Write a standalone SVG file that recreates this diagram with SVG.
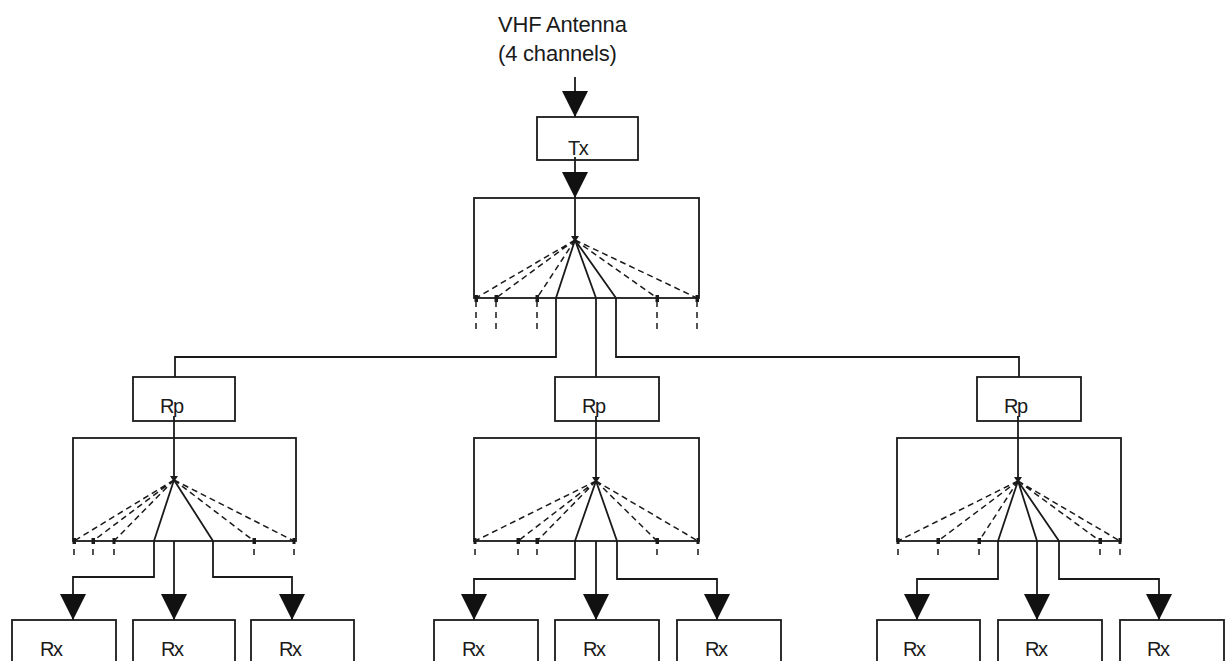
<svg xmlns="http://www.w3.org/2000/svg" width="1227" height="661" viewBox="0 0 1227 661">
  <style>
    .box { fill: #fff; stroke: #1a1a1a; stroke-width: 1.8; }
    .frame { fill: none; stroke: #1a1a1a; stroke-width: 1.8; }
    .ln { fill: none; stroke: #1a1a1a; stroke-width: 1.8; }
    .dash { fill: none; stroke: #1a1a1a; stroke-width: 1.5; stroke-dasharray: 6 4; }
    .stub { fill: none; stroke: #1a1a1a; stroke-width: 1.5; stroke-dasharray: 6 5; }
    .tick { fill: #1a1a1a; }
    .lbl { font-family: "Liberation Sans", Arial, sans-serif; font-size: 20px; fill: #1a1a1a; letter-spacing: -1.5px; }
    .cap { font-family: "Liberation Sans", Arial, sans-serif; font-size: 22px; fill: #1a1a1a; letter-spacing: -0.2px; }
  </style>
  <defs>
    <marker id="arrow" viewBox="0 0 26 26" refX="26" refY="13" markerWidth="26" markerHeight="26" markerUnits="userSpaceOnUse" orient="auto">
      <path d="M0,0 L26,13 L0,26 Z" fill="#111"/>
    </marker>
  </defs>

  <!-- antenna caption -->
  <g id="antenna">
    <text class="cap" x="498" y="32">VHF Antenna</text>
    <text class="cap" x="498" y="61">(4 channels)</text>
  </g>

  <!-- connectors -->
  <g id="connectors">
    <!-- antenna to Tx, Tx to splitter -->
    <line class="ln" x1="575" y1="77" x2="575" y2="117" marker-end="url(#arrow)"/>
    <line class="ln" x1="575" y1="157" x2="575" y2="198" marker-end="url(#arrow)"/>

    <!-- top splitter fan -->
    <line class="ln" x1="575" y1="198" x2="575" y2="240"/>
    <polygon class="tick" points="571,236 579,236 575,242"/>
    <path class="dash" d="M575,240 L476,298 M575,240 L496,298 M575,240 L537,298 M575,240 L657,298 M575,240 L697,298"/>
    <path class="ln" d="M575,240 L556,298 M575,240 L596,298 M575,240 L616,298"/>
    <path class="stub" d="M476,301 V334 M496,301 V334 M537,301 V334 M657,301 V334 M697,301 V334"/>
    <rect class="tick" x="474.5" y="295" width="3.5" height="7"/>
    <rect class="tick" x="494.5" y="295" width="3.5" height="7"/>
    <rect class="tick" x="535.5" y="295" width="3.5" height="7"/>
    <rect class="tick" x="655.5" y="295" width="3.5" height="7"/>
    <rect class="tick" x="695.5" y="295" width="3.5" height="7"/>

    <!-- feeds to the three repeaters -->
    <path class="ln" d="M556,298 V357 H175 V377"/>
    <path class="ln" d="M596,298 V377"/>
    <path class="ln" d="M616,298 V357 H1019 V377"/>

    <!-- left repeater splitter -->
    <line class="ln" x1="174" y1="417" x2="174" y2="480"/>
    <polygon class="tick" points="170,476 178,476 174,482"/>
    <path class="dash" d="M174,480 L74,541 M174,480 L93,541 M174,480 L114,541 M174,480 L254,541 M174,480 L294,541"/>
    <path class="ln" d="M174,480 L154,541 M174,480 L213,541"/>
    <path class="ln" d="M154,541 V577 H73 V620" marker-end="url(#arrow)"/>
    <path class="ln" d="M174,541 V620" marker-end="url(#arrow)"/>
    <path class="ln" d="M213,541 V577 H292 V620" marker-end="url(#arrow)"/>
    <path class="stub" d="M74,549 V556 M93,549 V556 M114,549 V556 M254,549 V556 M294,549 V556"/>
    <rect class="tick" x="72.5" y="538" width="3.5" height="6"/>
    <rect class="tick" x="91.5" y="538" width="3.5" height="6"/>
    <rect class="tick" x="112.5" y="538" width="3" height="6"/>
    <rect class="tick" x="252.5" y="538" width="3.5" height="6"/>
    <rect class="tick" x="292.5" y="538" width="3" height="6"/>

    <!-- middle repeater splitter -->
    <line class="ln" x1="596" y1="417" x2="596" y2="481"/>
    <polygon class="tick" points="592,477 600,477 596,483"/>
    <path class="dash" d="M596,481 L475,541 M596,481 L518,541 M596,481 L537,541 M596,481 L657,541 M596,481 L698,541"/>
    <path class="ln" d="M596,481 L575,541 M596,481 L617,541"/>
    <path class="ln" d="M575,541 V579 H474 V620" marker-end="url(#arrow)"/>
    <path class="ln" d="M596,541 V620" marker-end="url(#arrow)"/>
    <path class="ln" d="M617,541 V579 H717 V620" marker-end="url(#arrow)"/>
    <path class="stub" d="M475,549 V556 M518,549 V556 M537,549 V556 M657,549 V556 M698,549 V556"/>
    <rect class="tick" x="473.5" y="538" width="3" height="6"/>
    <rect class="tick" x="516.5" y="538" width="3.5" height="6"/>
    <rect class="tick" x="535.5" y="538" width="3.5" height="6"/>
    <rect class="tick" x="655.5" y="538" width="3.5" height="6"/>
    <rect class="tick" x="696.5" y="538" width="3" height="6"/>

    <!-- right repeater splitter -->
    <line class="ln" x1="1018" y1="417" x2="1018" y2="481"/>
    <polygon class="tick" points="1014,477 1022,477 1018,483"/>
    <path class="dash" d="M1018,481 L898,541 M1018,481 L938,541 M1018,481 L979,541 M1018,481 L1100,541 M1018,481 L1120,541"/>
    <path class="ln" d="M1018,481 L998,541 M1018,481 L1037,541 M1018,481 L1059,541"/>
    <path class="ln" d="M998,541 V579 H917 V620" marker-end="url(#arrow)"/>
    <path class="ln" d="M1037,541 V620" marker-end="url(#arrow)"/>
    <path class="ln" d="M1059,541 V579 H1159 V620" marker-end="url(#arrow)"/>
    <path class="stub" d="M898,549 V556 M938,549 V556 M979,549 V556 M1100,549 V556 M1120,549 V556"/>
    <rect class="tick" x="896.5" y="538" width="3" height="6"/>
    <rect class="tick" x="936.5" y="538" width="3.5" height="6"/>
    <rect class="tick" x="977.5" y="538" width="3.5" height="6"/>
    <rect class="tick" x="1098.5" y="538" width="3.5" height="6"/>
    <rect class="tick" x="1118.5" y="538" width="3" height="6"/>
  </g>

  <!-- transmitter -->
  <g id="tx">
    <rect class="box" x="537" y="117" width="101" height="43"/>
    <line class="ln" x1="575" y1="157" x2="575" y2="160"/>
    <text class="lbl" x="568" y="155">Tx</text>
  </g>

  <!-- splitters (outline only so the fans stay visible) -->
  <g id="split-top"><rect class="frame" x="474" y="198" width="225" height="100"/></g>
  <g id="split-left"><rect class="frame" x="73" y="438" width="223" height="103"/></g>
  <g id="split-mid"><rect class="frame" x="474" y="438" width="225" height="103"/></g>
  <g id="split-right"><rect class="frame" x="897" y="438" width="224" height="103"/></g>

  <!-- repeaters -->
  <g id="rp-left">
    <rect class="box" x="133" y="377" width="102" height="44"/>
    <line class="ln" x1="174" y1="416" x2="174" y2="421"/>
    <text class="lbl" x="160" y="413">Rp</text>
  </g>
  <g id="rp-mid">
    <rect class="box" x="555" y="377" width="104" height="44"/>
    <line class="ln" x1="596" y1="416" x2="596" y2="421"/>
    <text class="lbl" x="582" y="413">Rp</text>
  </g>
  <g id="rp-right">
    <rect class="box" x="977" y="377" width="104" height="44"/>
    <line class="ln" x1="1018" y1="416" x2="1018" y2="421"/>
    <text class="lbl" x="1004" y="413">Rp</text>
  </g>

  <!-- receivers -->
  <g id="rx-1"><rect class="box" x="12" y="620" width="104" height="50"/><text class="lbl" x="40" y="656">Rx</text></g>
  <g id="rx-2"><rect class="box" x="133" y="620" width="102" height="50"/><text class="lbl" x="161" y="656">Rx</text></g>
  <g id="rx-3"><rect class="box" x="251" y="620" width="103" height="50"/><text class="lbl" x="279" y="656">Rx</text></g>
  <g id="rx-4"><rect class="box" x="434" y="620" width="104" height="50"/><text class="lbl" x="462" y="656">Rx</text></g>
  <g id="rx-5"><rect class="box" x="555" y="620" width="104" height="50"/><text class="lbl" x="583" y="656">Rx</text></g>
  <g id="rx-6"><rect class="box" x="677" y="620" width="104" height="50"/><text class="lbl" x="705" y="656">Rx</text></g>
  <g id="rx-7"><rect class="box" x="877" y="620" width="103" height="50"/><text class="lbl" x="903" y="656">Rx</text></g>
  <g id="rx-8"><rect class="box" x="998" y="620" width="104" height="50"/><text class="lbl" x="1025" y="656">Rx</text></g>
  <g id="rx-9"><rect class="box" x="1120" y="620" width="104" height="50"/><text class="lbl" x="1147" y="656">Rx</text></g>
</svg>
